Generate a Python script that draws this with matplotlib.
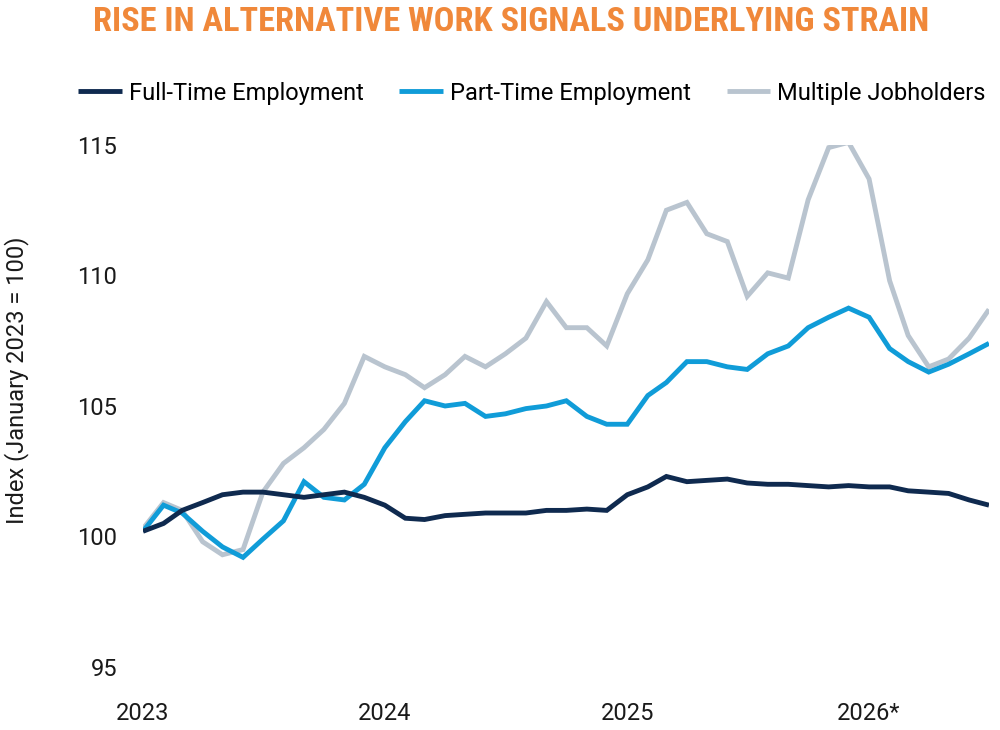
import matplotlib
matplotlib.use("Agg")
import matplotlib.pyplot as plt
import numpy as np
import pandas as pd

# monthly index values, Jan 2023 .. Jul 2026 (January 2023 = 100)
months = pd.date_range("2023-01-01", "2026-07-01", freq="MS")

full_time = [100.2, 100.5, 101.0, 101.3, 101.6, 101.7, 101.7, 101.6, 101.5, 101.6,
             101.7, 101.5, 101.2, 100.7, 100.65, 100.8, 100.85, 100.9, 100.9, 100.9,
             101.0, 101.0, 101.05, 101.0, 101.6, 101.9, 102.3, 102.1, 102.15, 102.2,
             102.05, 102.0, 102.0, 101.95, 101.9, 101.95, 101.9, 101.9, 101.75, 101.7,
             101.65, 101.4, 101.2]

part_time = [100.2, 101.2, 100.9, 100.2, 99.6, 99.2, 99.9, 100.6, 102.1, 101.5,
             101.4, 102.0, 103.4, 104.4, 105.2, 105.0, 105.1, 104.6, 104.7, 104.9,
             105.0, 105.2, 104.6, 104.3, 104.3, 105.4, 105.9, 106.7, 106.7, 106.5,
             106.4, 107.0, 107.3, 108.0, 108.4, 108.75, 108.4, 107.2, 106.7, 106.3,
             106.6, 107.0, 107.4]

multiple_jobs = [100.3, 101.3, 101.0, 99.8, 99.3, 99.5, 101.7, 102.8, 103.4, 104.1,
                 105.1, 106.9, 106.5, 106.2, 105.7, 106.2, 106.9, 106.5, 107.0, 107.6,
                 109.0, 108.0, 108.0, 107.3, 109.3, 110.6, 112.5, 112.8, 111.6, 111.3,
                 109.2, 110.1, 109.9, 112.9, 114.9, 115.1, 113.7, 109.8, 107.7, 106.5,
                 106.8, 107.6, 108.7]

series_names = ["Full-Time Employment", "Part-Time Employment", "Multiple Jobholders"]
series_colors = ["#0f2a4f", "#109cd8", "#b9c4cf"]

year_ticks = pd.to_datetime(["2023-01-01", "2024-01-01", "2025-01-01", "2026-01-01"])
year_labels = ["2023", "2024", "2025", "2026*"]
y_ticks = [95, 100, 105, 110, 115]

TITLE = "RISE IN ALTERNATIVE WORK SIGNALS UNDERLYING STRAIN"


def main():
    plt.rcParams['font.family'] = ['Roboto', 'DejaVu Sans']
    fig = plt.figure(figsize=(10, 7.3), dpi=100)
    ax = fig.add_axes([0.143, 0.0863, 0.846, 0.7151])

    # gray first so the navy line sits on top
    lines = {}
    for vals, name, col in [(multiple_jobs, series_names[2], series_colors[2]),
                            (part_time, series_names[1], series_colors[1]),
                            (full_time, series_names[0], series_colors[0])]:
        lines[name], = ax.plot(months, vals, color=col, lw=3.5, label=name,
                               solid_joinstyle='miter', solid_capstyle='butt')

    ax.set_xlim(months[0], months[-1])
    ax.set_ylim(95, 115)
    ax.set_xticks(year_ticks)
    ax.set_xticklabels(year_labels)
    ax.set_yticks(y_ticks)
    ax.tick_params(axis='both', length=0, labelsize=17, colors='#1a1a1a')
    ax.tick_params(axis='y', pad=18.5)
    ax.tick_params(axis='x', pad=25.5)
    for s in ax.spines.values():
        s.set_visible(False)

    fig.text(0.0165, 0.4785, "Index (January 2023 = 100)", rotation=90,
             ha='center', va='center', fontsize=17, color='#1a1a1a')

    # title: condensed look, shrink to the reference width if the font is wide
    title = fig.text(0.511, 0.9705, TITLE, ha='center', va='center',
                     fontsize=33, fontweight='bold', color='#f0883a',
                     family=['Roboto Condensed', 'Roboto', 'DejaVu Sans'])
    renderer = fig.canvas.get_renderer()
    w = title.get_window_extent(renderer).width
    if w > 837:
        title.set_fontsize(33 * 837 / w)

    handles = [lines[n] for n in series_names]
    fig.legend(handles, series_names, loc='center', bbox_to_anchor=(0.532, 0.8726),
               ncol=3, frameon=False, fontsize=17, handlelength=1.85,
               handletextpad=0.3, columnspacing=1.5)

    fig.savefig("out.png", dpi=100)


if __name__ == '__main__':
    main()
